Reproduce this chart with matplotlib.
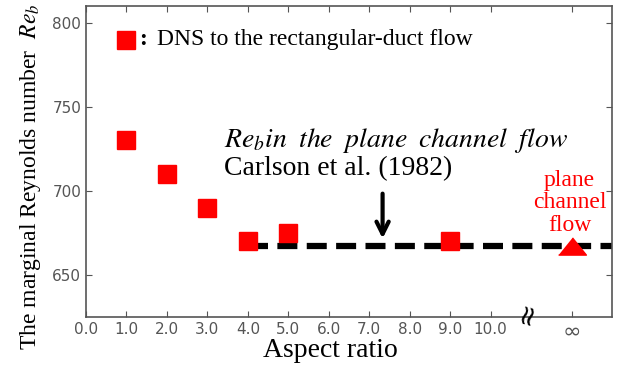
import matplotlib
matplotlib.use("Agg")
import matplotlib.pyplot as plt

plt.rcParams['mathtext.fontset'] = 'stix'

# данные
aspect = [1, 2, 3, 4, 5, 9]
re_b = [730, 710, 690, 670, 675, 670]
inf_pos = 12
re_channel = 667
xticks = [0, 1, 2, 3, 4, 5, 6, 7, 8, 9, 10, 12]
xticklabels = ['0.0', '1.0', '2.0', '3.0', '4.0', '5.0', '6.0', '7.0', '8.0', '9.0', '10.0', '∞']
yticks = [650, 700, 750, 800]

fig = plt.figure(figsize=(6.21, 3.69), dpi=100)
ax = fig.add_axes([0.1385, 0.141, 0.847, 0.843])

ax.plot([4, 13], [re_channel, re_channel], color='black', lw=4.5, ls=(0, (3.2, 1.5)), zorder=1)
ax.plot(aspect, re_b, 's', color='#ff0000', ms=13.5, zorder=3)
tri = [(-1, -0.62), (1, -0.62), (0, 0.62)]
ax.plot([inf_pos], [re_channel], marker=tri, color='#ff0000', ms=20, ls='none', zorder=3)

ax.set_xlim(0, 13)
ax.set_ylim(625, 810)
ax.set_xticks(xticks)
ax.set_xticklabels(xticklabels)
ax.set_yticks(yticks)
ax.tick_params(direction='in', top=True, right=True, labelsize=11, labelcolor='#555555',
               color='#555555', length=4)
ax.get_xticklabels()[-1].set_fontsize(16)
for sp in ax.spines.values():
    sp.set_color('#555555')
    sp.set_linewidth(1.2)

serif = 'Liberation Serif'
ax.set_xlabel('Aspect ratio', family=serif, fontsize=20)
ax.xaxis.set_label_coords(0.464, -0.068)
ax.set_ylabel('The marginal Reynolds number  $Re_b$', family=serif, fontsize=17)
ax.yaxis.set_label_coords(-0.082, 0.45)

# легенда вручную
ax.plot([1.0], [790], 's', color='#ff0000', ms=13.5, zorder=3)
ax.text(1.32, 790, ':', family=serif, fontsize=17, va='center', fontweight='bold')
ax.text(1.75, 790, 'DNS to the rectangular-duct flow', family=serif, fontsize=17, va='center')

ax.text(3.4, 730, r'$Re_b in\ \;the\ \;plane\ \;channel\ \;flow$', fontsize=20, va='center')
ax.text(3.4, 713, 'Carlson et al. (1982)', family=serif, fontsize=20, va='center')
ax.annotate('', xy=(7.33, 670), xytext=(7.33, 700),
            arrowprops=dict(arrowstyle='->', color='black', lw=3, mutation_scale=22))

ax.text(11.95, 693, 'plane\nchannel\nflow', color='#ff0000', family=serif, fontsize=17,
        ha='center', va='center', linespacing=1.1)

ax.text(10.9, 627, '≈', fontsize=20, rotation=75, ha='center', va='center', clip_on=False)

fig.savefig('out.png', dpi=100)
